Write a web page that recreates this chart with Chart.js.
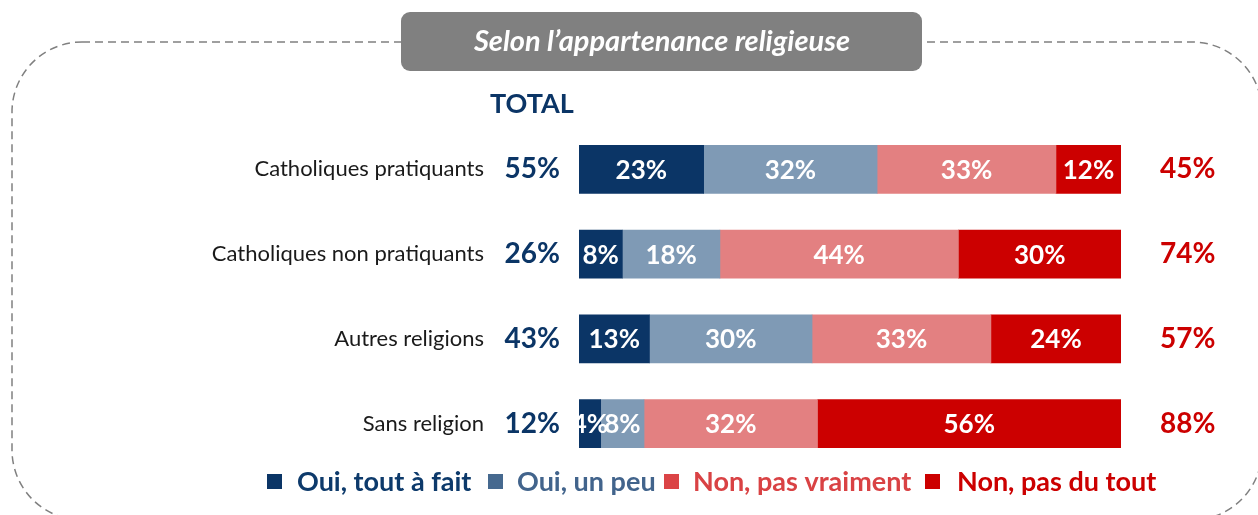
<!DOCTYPE html>
<html>
<head>
<meta charset="utf-8">
<title>Selon l'appartenance religieuse</title>
<script src="https://cdn.jsdelivr.net/npm/chart.js@4/dist/chart.umd.min.js"></script>
<style>
  body { margin: 0; background: #ffffff; }
  #wrap { width: 1258px; height: 515px; }
</style>
</head>
<body>
<div id="wrap"><canvas id="chart" width="1258" height="515"></canvas></div>
<script>
// Values (percentages)
const categories = ['Catholiques pratiquants', 'Catholiques non pratiquants', 'Autres religions', 'Sans religion']
const toutAFait = [23, 8, 13, 4]
const unPeu = [32, 18, 30, 8]
const pasVraiment = [33, 44, 33, 32]
const pasDuTout = [12, 30, 24, 56]
const totalOui = [55, 26, 43, 12]
const totalNon = [45, 74, 57, 88]
const seriesNames = ['Oui, tout à fait', 'Oui, un peu', 'Non, pas vraiment', 'Non, pas du tout']

const titleText = 'Selon l\u2019appartenance religieuse'
const totalText = 'TOTAL'

const FONT = 'Lato, "Open Sans", sans-serif'
const NAVY = '#0b3566'
const barColors = ['#0b3566', '#7f9ab5', '#e38081', '#cc0000']
const legendBox = ['#0b3566', '#46698f', '#db4446', '#cc0000']
const legendText = ['#0d3a6b', '#42648c', '#d94244', '#cc0000']
// legend square / text positions
const legendX = [267, 488, 664, 925]
const legendTextX = [297, 517, 693, 957]

function roundRect(ctx, x, y, w, h, r) {
    ctx.beginPath()
    ctx.moveTo(x + r, y)
    ctx.lineTo(x + w - r, y)
    ctx.arcTo(x + w, y, x + w, y + r, r)
    ctx.lineTo(x + w, y + h - r)
    ctx.arcTo(x + w, y + h, x + w - r, y + h, r)
    ctx.lineTo(x + r, y + h)
    ctx.arcTo(x, y + h, x, y + h - r, r)
    ctx.lineTo(x, y + r)
    ctx.arcTo(x, y, x + r, y, r)
    ctx.closePath()
}

// Frame, title box and headings behind the bars
const framePlugin = {
    id: 'frame',
    beforeDraw(chart) {
        const ctx = chart.ctx
        ctx.save()
        ctx.fillStyle = '#ffffff'
        ctx.fillRect(0, 0, chart.width, chart.height)

        ctx.strokeStyle = '#808080'
        ctx.lineWidth = 1.5
        ctx.setLineDash([8, 5])
        roundRect(ctx, 12, 42, 1250, 478, 70)
        ctx.stroke()
        ctx.setLineDash([])

        ctx.fillStyle = '#808080'
        roundRect(ctx, 401, 12, 521, 59, 9)
        ctx.fill()
        ctx.fillStyle = '#ffffff'
        ctx.font = 'italic bold 29px ' + FONT
        ctx.textAlign = 'center'
        ctx.textBaseline = 'middle'
        ctx.fillText(titleText, 662, 42)

        ctx.fillStyle = NAVY
        ctx.font = 'bold 27px ' + FONT
        ctx.textAlign = 'left'
        ctx.fillText(totalText, 490, 104)
        ctx.restore()
    }
}

// Category names, totals, segment labels and legend
const labelPlugin = {
    id: 'labels',
    afterDatasetsDraw(chart) {
        const ctx = chart.ctx
        const yScale = chart.scales.y
        ctx.save()
        ctx.textBaseline = 'middle'

        categories.forEach((name, i) => {
            const y = yScale.getPixelForValue(i)
            ctx.fillStyle = '#1a1a1a'
            ctx.font = '22px ' + FONT
            ctx.textAlign = 'right'
            ctx.fillText(name, 484, y)

            ctx.font = 'bold 28px ' + FONT
            ctx.fillStyle = NAVY
            ctx.fillText(totalOui[i] + '%', 560, y)
            ctx.fillStyle = '#cc0000'
            ctx.textAlign = 'left'
            ctx.fillText(totalNon[i] + '%', 1160, y)
        })

        ctx.font = 'bold 26px ' + FONT
        ctx.textAlign = 'center'
        ctx.fillStyle = '#ffffff'
        chart.data.datasets.forEach((ds, di) => {
            const meta = chart.getDatasetMeta(di)
            meta.data.forEach((bar, i) => {
                const cx = (bar.x + bar.base) / 2
                ctx.fillText(ds.data[i] + '%', cx, bar.y + 1)
            })
        })

        // legend
        ctx.textAlign = 'left'
        ctx.font = 'bold 27px ' + FONT
        seriesNames.forEach((name, i) => {
            ctx.fillStyle = legendBox[i]
            ctx.fillRect(legendX[i], 474, 15, 15)
            ctx.fillStyle = legendText[i]
            ctx.fillText(name, legendTextX[i], 482)
        })
        ctx.restore()
    }
}

const datasets = [toutAFait, unPeu, pasVraiment, pasDuTout].map((values, i) => ({
    label: seriesNames[i],
    data: values,
    backgroundColor: barColors[i],
    borderWidth: 0,
    barThickness: 48
}))

new Chart(document.getElementById('chart'), {
    type: 'bar',
    data: {
        labels: categories,
        datasets: datasets
    },
    options: {
        indexAxis: 'y',
        responsive: false,
        animation: false,
        devicePixelRatio: 1,
        layout: {
            padding: { left: 579, right: 137, top: 127, bottom: 49 }
        },
        scales: {
            x: { stacked: true, min: 0, max: 100, display: false },
            y: { stacked: true, display: false }
        },
        plugins: {
            legend: { display: false },
            tooltip: { enabled: false }
        }
    },
    plugins: [framePlugin, labelPlugin]
})
</script>
</body>
</html>
